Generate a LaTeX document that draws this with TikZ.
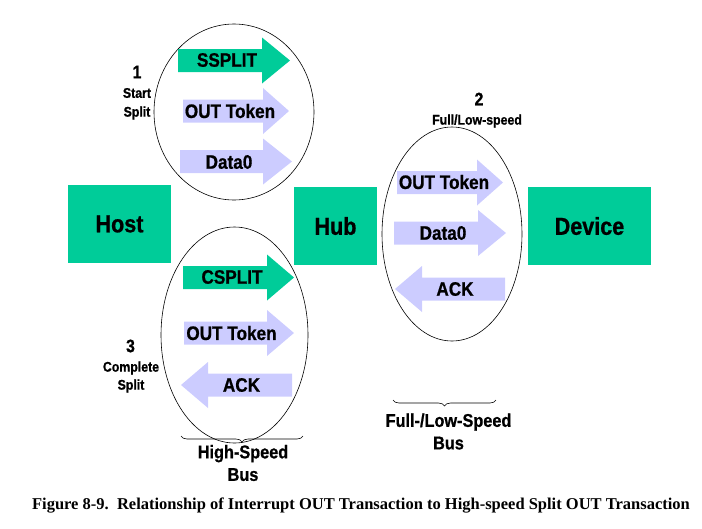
\documentclass[tikz,border=0pt]{standalone}
\usepackage{fontspec}
\usepackage{tikz}
\usetikzlibrary{decorations.pathreplacing}
\newfontfamily\usbfont{Liberation Sans}[FakeStretch=0.88, BoldFeatures={FakeBold=0.8}]
\newfontfamily\capfont{Liberation Serif}
\definecolor{usbgreen}{RGB}{0,204,153}
\definecolor{usblav}{RGB}{204,204,255}
% packet arrow: style, tail x, head base x, tip x, centre y
\newcommand{\pkt}[5]{\fill[#1] (#2,{#5-11.5}) -- (#3,{#5-11.5}) -- (#3,{#5-23}) -- (#4,#5)
  -- (#3,{#5+23}) -- (#3,{#5+11.5}) -- (#2,{#5+11.5}) -- cycle;}

\begin{document}
\begin{tikzpicture}[x=1pt,y=-1pt,
  dev/.style={fill=usbgreen, minimum height=78pt, inner sep=0pt, font=\usbfont\bfseries\fontsize{24.5}{26}\selectfont},
  lbl/.style={inner sep=0pt, font=\usbfont\bfseries\fontsize{19.5}{21}\selectfont},
  small/.style={inner sep=0pt, font=\usbfont\bfseries\fontsize{14}{15}\selectfont},
  num/.style={inner sep=0pt, font=\usbfont\bfseries\fontsize{18}{20}\selectfont},
  bus/.style={inner sep=0pt, align=center, font=\usbfont\bfseries\fontsize{18.5}{22.5}\selectfont},
  brc/.style={decorate, decoration={brace, mirror, amplitude=6pt}, line width=0.6pt},
  phase/.style={line width=0.6pt}]
  \useasboundingbox (0,0) rectangle (702,528);

  \node[dev, minimum width=103pt] (host) at (119.5,224) {Host};
  \node[dev, minimum width=83pt] (hub) at (335.5,226) {Hub};
  \node[dev, minimum width=123pt] (device) at (589.5,226) {Device};

  \draw[phase] (234,112) ellipse [x radius=80pt, y radius=88pt];
  \draw[phase] (452,234) ellipse [x radius=70pt, y radius=107pt];
  \draw[phase] (234.5,335) ellipse [x radius=73.5pt, y radius=108pt];

  % start split
  \pkt{usbgreen}{178}{262}{290}{60.5}
  \pkt{usblav}{183}{263}{289}{111}
  \pkt{usblav}{180}{263}{292}{161.5}
  \node[lbl] (ssplit) at (227,60) {SSPLIT};
  \node[lbl] (outa) at (230,111) {OUT Token};
  \node[lbl] (dataa) at (229,162) {Data0};
  \node[num] (one) at (137,72) {1};
  \node[small] (starta) at (137,93) {Start};
  \node[small] (splita) at (137,113) {Split};

  % full/low-speed
  \pkt{usblav}{397}{477}{503}{182.5}
  \pkt{usblav}{394}{478}{506}{233}
  \pkt{usblav}{505}{422}{395}{289}
  \node[lbl] (outb) at (444,182) {OUT Token};
  \node[lbl] (datab) at (443,233) {Data0};
  \node[lbl] (ackb) at (455,289) {ACK};
  \node[num] (two) at (479,99) {2};
  \node[small] (fls) at (477,121) {Full/Low-speed};

  % complete split
  \pkt{usbgreen}{183}{267}{294}{277.5}
  \pkt{usblav}{184}{267}{294}{333}
  \pkt{usblav}{292}{208}{181}{385}
  \node[lbl] (csplit) at (232,277) {CSPLIT};
  \node[lbl] (outc) at (231.5,333) {OUT Token};
  \node[lbl] (ackc) at (241.5,385) {ACK};
  \node[num] (three) at (130.5,346) {3};
  \node[small] (complc) at (131,368) {Complete};
  \node[small] (splitc) at (131,386) {Split};

  % buses
  \draw[brc] (181,436) -- (303,436);
  \node[bus] (hsbus) at (243,463) {High-Speed\\Bus};
  \draw[brc] (393,400) -- (496,400);
  \node[bus] (flbus) at (448.5,431.5) {Full-/Low-Speed\\Bus};

  \node[inner sep=0pt, font=\capfont\bfseries\fontsize{16.5}{18}\selectfont] (caption) at (361,506)
    {Figure 8-9.\ \ Relationship of Interrupt OUT Transaction to High-speed Split OUT Transaction};
\end{tikzpicture}
\end{document}
